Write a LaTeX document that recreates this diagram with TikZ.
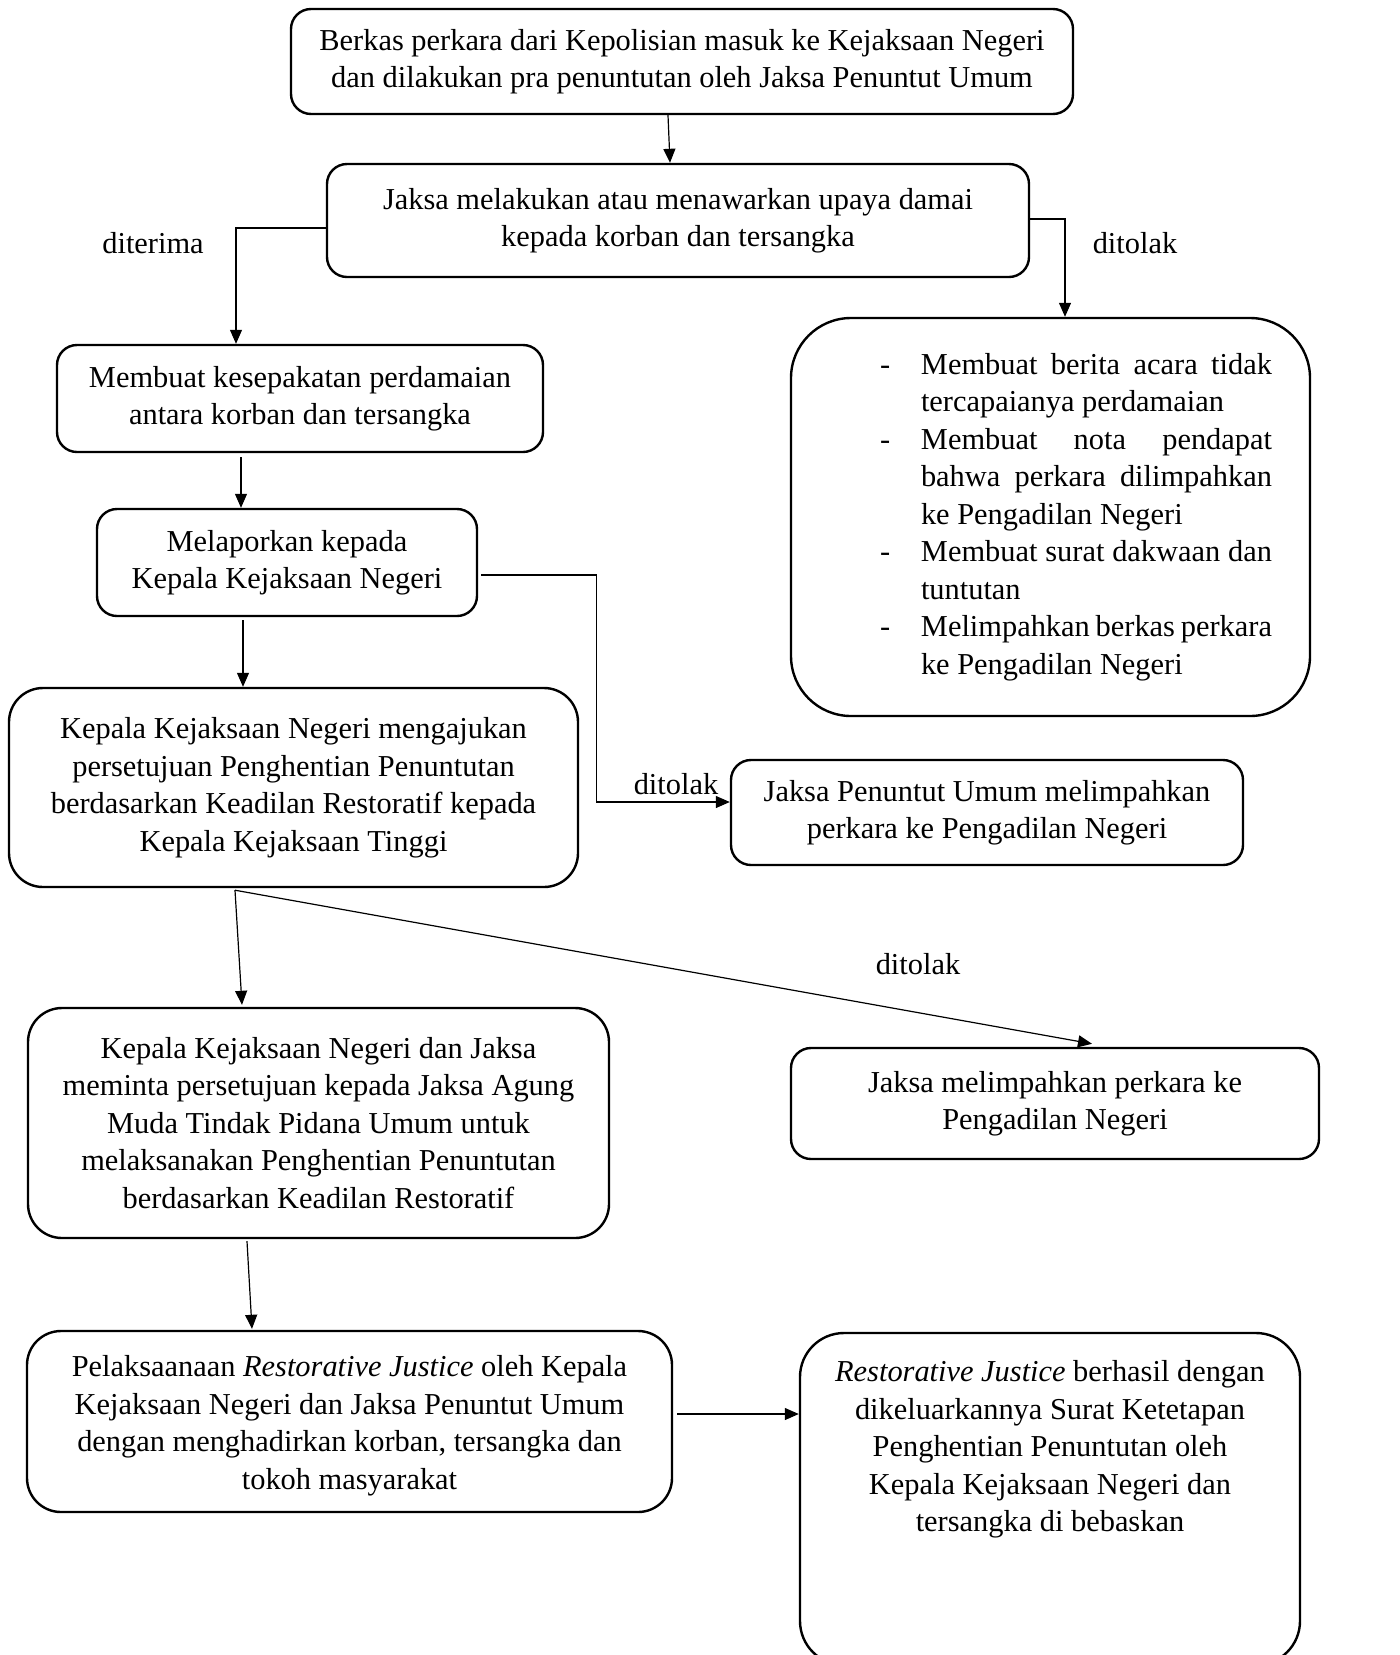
\documentclass[tikz,border=0pt]{standalone}
\usepackage{fontspec}
\setmainfont{Liberation Serif}
\usetikzlibrary{arrows.meta,calc}
\newcommand\dashitem[1]{\hangindent=20.5pt\hangafter=1\noindent\makebox[20.5pt][l]{-}#1\par}
\begin{document}
\begin{tikzpicture}[x=0.5pt,y=-0.5pt,
  every node/.style={font=\fontsize{15.2pt}{18.75pt}\selectfont},
  box/.style={draw,line width=1.2pt,rounded corners=10pt,align=center,inner sep=0pt},
  txt/.style={inner sep=0pt,align=center},
  conn/.style={line width=0.6pt},
  arr/.style={conn,-{Triangle[length=7pt,width=6pt]}},
  lbl/.style={inner sep=0pt}]
\path[use as bounding box] (0,0) rectangle (1400,1655);
\clip (0,0) rectangle (1400,1655);

\node[box,minimum width=391pt,minimum height=52.5pt] (b1) at (682,61.5)
  {Berkas perkara dari Kepolisian masuk ke Kejaksaan Negeri\\dan dilakukan pra penuntutan oleh Jaksa Penuntut Umum};
\node[box,minimum width=351pt,minimum height=56.5pt] (b2) at (678,220.5)
  {Jaksa melakukan atau menawarkan upaya damai\\kepada korban dan tersangka};
\node[box,minimum width=243pt,minimum height=53.5pt] (b3) at (300,398.5)
  {Membuat kesepakatan perdamaian\\antara korban dan tersangka};
\node[box,rounded corners=30pt,minimum width=259.5pt,minimum height=199pt] (bR) at (1050.5,517) {};
\node[inner sep=0pt,text width=196pt,align=justify] (bRt) at (1076,517)
  {\dashitem{Membuat berita acara tidak\linebreak tercapaianya perdamaian}%
   \dashitem{Membuat nota pendapat\linebreak bahwa perkara dilimpahkan\linebreak ke Pengadilan Negeri}%
   \dashitem{Membuat surat dakwaan dan\linebreak tuntutan}%
   \dashitem{Melimpahkan berkas perkara\linebreak ke Pengadilan Negeri}};
\node[box,minimum width=190pt,minimum height=53.5pt] (b4) at (287,562.5)
  {Melaporkan kepada\\Kepala Kejaksaan Negeri};
\node[box,rounded corners=17pt,minimum width=284.5pt,minimum height=99.5pt] (b5) at (293.5,787.5)
  {Kepala Kejaksaan Negeri mengajukan\\persetujuan Penghentian Penuntutan\\berdasarkan Keadilan Restoratif kepada\\Kepala Kejaksaan Tinggi};
\node[box,minimum width=256pt,minimum height=52.5pt] (b6) at (987,812.5)
  {Jaksa Penuntut Umum melimpahkan\\perkara ke Pengadilan Negeri};
\node[box,rounded corners=17pt,minimum width=290.5pt,minimum height=115pt] (b7) at (318.5,1123)
  {Kepala Kejaksaan Negeri dan Jaksa\\meminta persetujuan kepada Jaksa Agung\\Muda Tindak Pidana Umum untuk\\melaksanakan Penghentian Penuntutan\\berdasarkan Keadilan Restoratif};
\node[box,minimum width=264pt,minimum height=55.5pt] (b8) at (1055,1103.5)
  {Jaksa melimpahkan perkara ke\\Pengadilan Negeri};
\node[box,rounded corners=17pt,minimum width=322.5pt,minimum height=90.5pt] (b9) at (349.5,1421.5) {};
\node[txt] (b9t) at (349.5,1425.5)
  {Pelaksaanaan \textit{Restorative Justice} oleh Kepala\\Kejaksaan Negeri dan Jaksa Penuntut Umum\\dengan menghadirkan korban, tersangka dan\\tokoh masyarakat};
\node[box,rounded corners=22pt,minimum width=250pt,minimum height=166pt] (b10) at (1050,1499) {};
\node[txt] (b10t) at (1050,1449.5)
  {\textit{Restorative Justice} berhasil dengan\\dikeluarkannya Surat Ketetapan\\Penghentian Penuntutan oleh\\Kepala Kejaksaan Negeri dan\\tersangka di bebaskan};

\node[lbl] (l1) at (153,243) {diterima};
\node[lbl] (l2) at (1135,243) {ditolak};
\node[lbl] (l3) at (676,784) {ditolak};
\node[lbl] (l4) at (918,964) {ditolak};

\draw[arr] ($(b1.south)+(-14,0)$) -- ($(b2.north)+(-8,0)$);
\draw[arr] ($(b2.west)+(0,7.5)$) -| ($(b3.north)+(-64,0)$);
\draw[arr] ($(b2.east)+(0,-1.5)$) -| ($(bR.north)+(14.5,0)$);
\draw[arr] ($(b3.south)+(-59,4)$) -- ($(b4.north)+(-46,0)$);
\coordinate (k1) at ($(b6.west)+(-133,-10.5)$);
\draw[arr] ($(b4.east)+(3,12.5)$) -| (k1) -- ($(b6.west)+(0,-10.5)$);
\draw[arr] ($(b4.south)+(-44,3)$) -- ($(b5.north)+(-50.5,0)$);
\coordinate (s5) at ($(b5.south)+(-58.5,2)$);
\draw[arr] (s5) -- ($(b7.north)+(-76.5,-2)$);
\draw[arr] (s5) -- ($(b8.north)+(37,-3)$);
\draw[arr] ($(b7.south)+(-71.5,2)$) -- ($(b9.north)+(-97.5,-1)$);
\coordinate (a9) at ($(b9.east)+(4,-7.5)$);
\draw[arr] (a9) -- (a9 -| b10.west);
\end{tikzpicture}
\end{document}
